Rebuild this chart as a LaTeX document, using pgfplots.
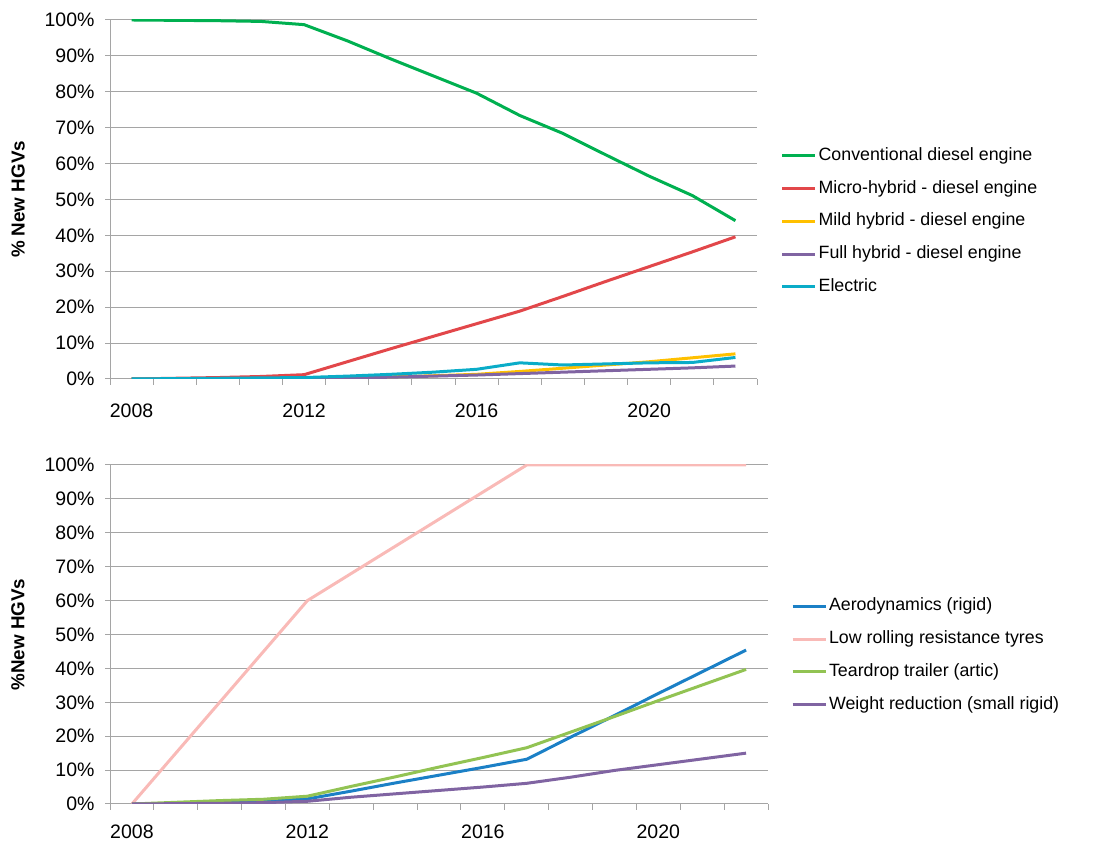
\documentclass[border=0pt]{standalone}
\usepackage{pgfplots}
\pgfplotsset{compat=1.18}
\usepackage{pgfplotstable}
\usepackage{fontspec}
\setmainfont{Liberation Sans}
\definecolor{axgray}{RGB}{165,165,165}
\definecolor{cgreen}{HTML}{00B050}
\definecolor{cred}{HTML}{E2474A}
\definecolor{cyellow}{HTML}{FFC000}
\definecolor{cpurple}{HTML}{8064A2}
\definecolor{ccyan}{HTML}{0AACC8}
\definecolor{cblue}{HTML}{1B80C6}
\definecolor{cpink}{HTML}{F9BAB7}
\definecolor{clgreen}{HTML}{92C353}
\newcommand{\fs}{\fontsize{17.8bp}{21bp}\selectfont}
\newcommand{\fst}{\fontsize{19.5bp}{23bp}\selectfont}
\newcommand{\fsl}{\fontsize{18.8bp}{22bp}\selectfont}

\pgfplotstableread{
year conv micro mild full elec
2008 100 0 0 0 0
2009 99.9 0.2 0 0 0.1
2010 99.8 0.4 0 0 0.2
2011 99.6 0.7 0.1 0 0.3
2012 98.7 1.2 0.1 0.1 0.4
2013 94.2 4.8 0.3 0.3 0.8
2014 89.2 8.4 0.6 0.5 1.3
2015 84.4 11.9 0.9 0.8 1.9
2016 79.6 15.4 1.3 1.1 2.7
2017 73.4 18.9 2.1 1.5 4.5
2018 68.4 23.0 3.0 1.9 3.9
2019 62.4 27.2 3.9 2.3 4.2
2020 56.5 31.3 4.8 2.7 4.5
2021 51.1 35.4 5.9 3.1 4.6
2022 44.1 39.6 7.0 3.6 6.0
}\toptable

\pgfplotstableread{
year aero tyres tear weight
2008 0 0 0 0
2009 0.2 15 0.5 0.1
2010 0.4 30 1.0 0.2
2011 0.8 45 1.4 0.4
2012 1.5 60 2.3 0.8
2013 3.8 68 5.2 2.0
2014 6.2 76 8.0 3.0
2015 8.5 84 10.9 4.0
2016 10.8 92 13.7 5.0
2017 13.2 100 16.6 6.1
2018 19.7 100 21.2 7.9
2019 26.1 100 25.8 9.9
2020 32.6 100 30.5 11.6
2021 39.0 100 35.1 13.3
2022 45.4 100 39.7 15.0
}\bottable

\pgfplotsset{
  mystyle/.style={
    scale only axis,
    axis x line=bottom, axis y line=left,
    axis line style={-, draw=axgray, line width=1bp},
    xmin=2007.5, xmax=2022.5, ymin=0, ymax=100,
    xtick={2008,2012,2016,2020}, xticklabels={2008,2012,2016,2020},
    minor xtick={2007.5,2008.5,...,2022.5},
    ytick={0,10,...,100},
    yticklabels={0\%,10\%,20\%,30\%,40\%,50\%,60\%,70\%,80\%,90\%,100\%},
    major x tick style={draw=none},
    tick align=outside,
    major tick length=5bp, minor tick length=6bp,
    tick style={draw=axgray, line width=1bp},
    ymajorgrids, grid style={draw=axgray, line width=1bp},
    tick label style={font=\fst},
    yticklabel style={xshift=-7bp},
    label style={font=\fsl\bfseries},
    legend cell align=left,
    legend image code/.code={\draw[##1, line width=3bp] (0bp,0bp) -- (33bp,0bp);},
    legend style={draw=none, fill=none, inner sep=0pt, outer sep=0pt, font=\fs,
      anchor=west, row sep=15.75bp, column sep=2bp,
      nodes={inner sep=0pt, text height=13bp, text depth=4bp}},
    every axis plot/.append style={line width=3bp, line join=round},
  }
}

\begin{document}
\begin{tikzpicture}[x=1bp,y=1bp]
\useasboundingbox (0,0) rectangle (1095,843);
\begin{axis}[mystyle,
  at={(110bp,464bp)}, anchor=south west,
  width=647bp, height=359bp,
  xticklabel style={inner sep=0pt, yshift=-19.5bp},
  ylabel={\% New HGVs},
  ylabel style={at={(axis description cs:-0.142,0.5)}, anchor=center},
  legend style={at={(1.0365,0.4387)}},
]
\addplot[cgreen] table[x=year,y=conv] {\toptable};
\addlegendentry{Conventional diesel engine}
\addplot[cred] table[x=year,y=micro] {\toptable};
\addlegendentry{Micro-hybrid - diesel engine}
\addplot[cyellow] table[x=year,y=mild] {\toptable};
\addlegendentry{Mild hybrid - diesel engine}
\addplot[cpurple] table[x=year,y=full] {\toptable};
\addlegendentry{Full hybrid - diesel engine}
\addplot[ccyan] table[x=year,y=elec] {\toptable};
\addlegendentry{Electric}
\end{axis}
\begin{axis}[mystyle,
  at={(110bp,39bp)}, anchor=south west,
  width=658bp, height=339bp,
  xticklabel style={inner sep=0pt, yshift=-16bp},
  ylabel={\%New HGVs},
  ylabel style={at={(axis description cs:-0.140,0.5)}, anchor=center},
  legend style={at={(1.0350,0.4380)}},
]
\addplot[cblue] table[x=year,y=aero] {\bottable};
\addlegendentry{Aerodynamics (rigid)}
\addplot[cpink] table[x=year,y=tyres] {\bottable};
\addlegendentry{Low rolling resistance tyres}
\addplot[clgreen] table[x=year,y=tear] {\bottable};
\addlegendentry{Teardrop trailer (artic)}
\addplot[cpurple] table[x=year,y=weight] {\bottable};
\addlegendentry{Weight reduction (small rigid)}
\end{axis}
\end{tikzpicture}
\end{document}
